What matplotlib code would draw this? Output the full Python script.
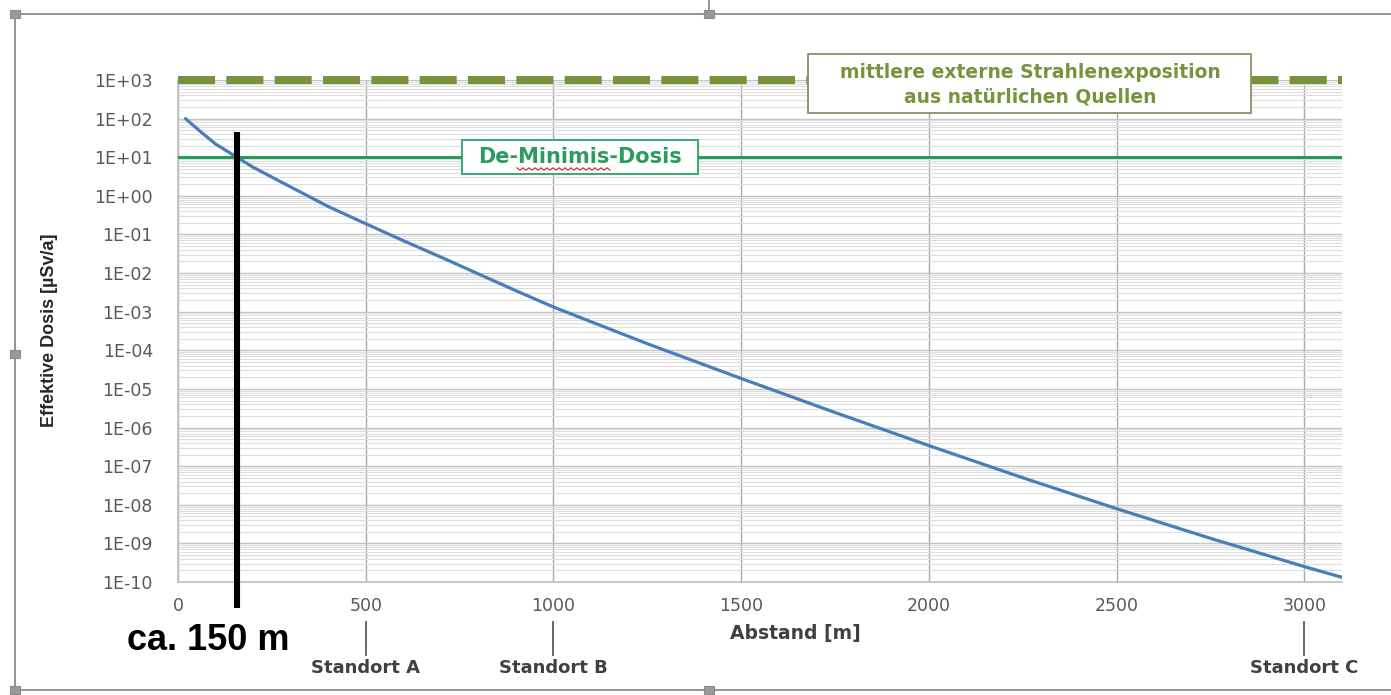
import matplotlib
matplotlib.use("Agg")
import matplotlib.pyplot as plt
from matplotlib.lines import Line2D
from matplotlib.patches import Rectangle
from matplotlib.ticker import LogLocator, NullFormatter
import numpy as np

# ---------------- data ----------------
distance_m = [20, 60, 100, 150, 200, 300, 400, 500, 600, 700, 800, 900, 1000,
              1250, 1500, 1750, 2000, 2250, 2500, 2750, 3000, 3100]
dose_uSv = [1.0e2, 4.6e1, 2.2e1, 1.1e1, 5.5e0, 1.7e0, 5.3e-1, 1.9e-1,
            6.9e-2, 2.6e-2, 9.5e-3, 3.5e-3, 1.32e-3,
            1.48e-4, 1.86e-5, 2.45e-6, 3.4e-7, 5.0e-8, 7.9e-9,
            1.35e-9, 2.5e-10, 1.32e-10]
natural_exposure = 1000.0
de_minimis = 10.0
marker_distance = 157
standorte = ["Standort A", "Standort B", "Standort C"]
standort_x = [500, 1000, 3000]
x_ticks = [0, 500, 1000, 1500, 2000, 2500, 3000]
y_ticks = [1e3, 1e2, 1e1, 1e0, 1e-1, 1e-2, 1e-3, 1e-4, 1e-5, 1e-6, 1e-7, 1e-8, 1e-9, 1e-10]
y_tick_labels = ["1E+03", "1E+02", "1E+01", "1E+00", "1E-01", "1E-02", "1E-03",
                 "1E-04", "1E-05", "1E-06", "1E-07", "1E-08", "1E-09", "1E-10"]

W, H = 1391, 695
fig = plt.figure(figsize=(W / 100, H / 100), dpi=100)
fig.patch.set_facecolor("white")

def fx(px):
    return np.asarray(px) / W

def fy(py):
    return 1 - np.asarray(py) / H

L, R, T, B = 178, 1342, 80, 582
ax = fig.add_axes([fx(L), fy(B), fx(R) - fx(L), fy(T) - fy(B)])
ax.set_yscale("log")
ax.set_xlim(0, 3100)
ax.set_ylim(1e-10, 1e3)

# grid
ax.yaxis.set_minor_locator(LogLocator(base=10, subs=np.arange(2, 10), numticks=100))
ax.yaxis.set_minor_formatter(NullFormatter())
ax.set_yticks(y_ticks)
ax.set_yticklabels(y_tick_labels)
ax.set_xticks(x_ticks)
ax.set_xticklabels([str(v) for v in x_ticks])
ax.grid(which="minor", axis="y", color="#dedede", lw=0.8)
ax.grid(which="major", axis="y", color="#c4c4c4", lw=1.0)
ax.grid(which="major", axis="x", color="#a8a8a8", lw=1.0)
ax.set_axisbelow(True)
ax.tick_params(axis="both", which="both", length=0)
ax.tick_params(axis="y", pad=18, labelsize=12.5, labelcolor="#595959")
ax.tick_params(axis="x", pad=11, labelsize=12.5, labelcolor="#595959")
for side in ["top", "right"]:
    ax.spines[side].set_visible(False)
for side in ["left", "bottom"]:
    ax.spines[side].set_color("#bfbfbf")
    ax.spines[side].set_linewidth(1.2)

# reference lines
ax.axhline(natural_exposure, color="#77933C", lw=5.8, dashes=(4.6, 1.4),
           solid_capstyle="butt", dash_capstyle="butt", clip_on=False, zorder=3)
ax.axhline(de_minimis, color="#1f9e58", lw=2.2, zorder=3)

# curve
ax.plot(distance_m, dose_uSv, color="#4a7ebb", lw=2.3, zorder=4,
        solid_joinstyle="round", solid_capstyle="round")

# marker line
xt = ax.get_xaxis_transform()
ax.plot([marker_distance, marker_distance], [(B - 132) / (B - T), (B - 608) / (B - T)],
        transform=xt, color="black", lw=4.4, clip_on=False, zorder=5, solid_capstyle="butt")

# Standort ticks and labels
for name, xs in zip(standorte, standort_x):
    ax.plot([xs, xs], [(B - 622) / (B - T), (B - 655) / (B - T)], transform=xt,
            color="#595959", lw=1.3, clip_on=False)
    ax.text(xs, (B - 668) / (B - T), name, transform=xt, ha="center", va="center",
            fontsize=13, fontweight="bold", color="#404040", family="DejaVu Sans")

ax.text(1643, (B - 634) / (B - T), "Abstand [m]", transform=xt, ha="center", va="center",
        fontsize=13.5, fontweight="bold", color="#404040")

fig.text(fx(50), fy(330), "Effektive Dosis [µSv/a]", rotation=90, ha="center", va="center",
         fontsize=13, fontweight="bold", color="#262626",
         family=["Liberation Sans", "DejaVu Sans"])

fig.text(fx(208), fy(640), "ca. 150 m", ha="center", va="center", fontsize=26,
         fontweight="bold", color="black", family=["Liberation Sans", "DejaVu Sans"])

# annotation boxes
fig.patches.append(Rectangle((fx(808), fy(113)), fx(1251) - fx(808), fy(54) - fy(113),
                             transform=fig.transFigure, facecolor="white",
                             edgecolor="#8a8f6a", lw=1.3, zorder=6))
fig.text(fx(1030), fy(72), "mittlere externe Strahlenexposition", ha="center", va="center",
         fontsize=13.5, fontweight="bold", color="#77933C", zorder=7)
fig.text(fx(1030), fy(97), "aus natürlichen Quellen", ha="center", va="center",
         fontsize=13.5, fontweight="bold", color="#77933C", zorder=7)

fig.patches.append(Rectangle((fx(462), fy(174)), fx(698) - fx(462), fy(140) - fy(174),
                             transform=fig.transFigure, facecolor="white",
                             edgecolor="#2aa468", lw=1.3, zorder=6))
fig.text(fx(580), fy(157), "De-Minimis-Dosis", ha="center", va="center",
         fontsize=15, fontweight="bold", color="#2a9c5f", zorder=7)
# spell-check squiggle
zx = np.arange(517, 613, 3)
zy = 169 + np.where(np.arange(len(zx)) % 2 == 0, -1.2, 1.2)
fig.lines.append(Line2D(fx(zx), fy(zy), transform=fig.transFigure, color="#d02020", lw=0.8, zorder=8))

# chart frame decorations
frame_c = "#8c8c8c"
fig.lines.append(Line2D([fx(15), 1], [fy(14), fy(14)], transform=fig.transFigure, color=frame_c, lw=1.3))
fig.lines.append(Line2D([fx(15), fx(15)], [fy(14), fy(690)], transform=fig.transFigure, color=frame_c, lw=1.3))
fig.lines.append(Line2D([fx(15), 1], [fy(690), fy(690)], transform=fig.transFigure, color=frame_c, lw=1.3))
fig.lines.append(Line2D([fx(709), fx(709)], [1, fy(14)], transform=fig.transFigure, color=frame_c, lw=1.3))
for (hx, hy) in [(15, 14), (709, 14), (15, 354), (15, 690), (709, 690)]:
    fig.patches.append(Rectangle((fx(hx - 5), fy(hy + 4)), fx(10), 8 / H, transform=fig.transFigure,
                                 facecolor="#9a9a9a", edgecolor="#8a8a8a", lw=0.8, zorder=9))

fig.savefig("out.png", dpi=100)
